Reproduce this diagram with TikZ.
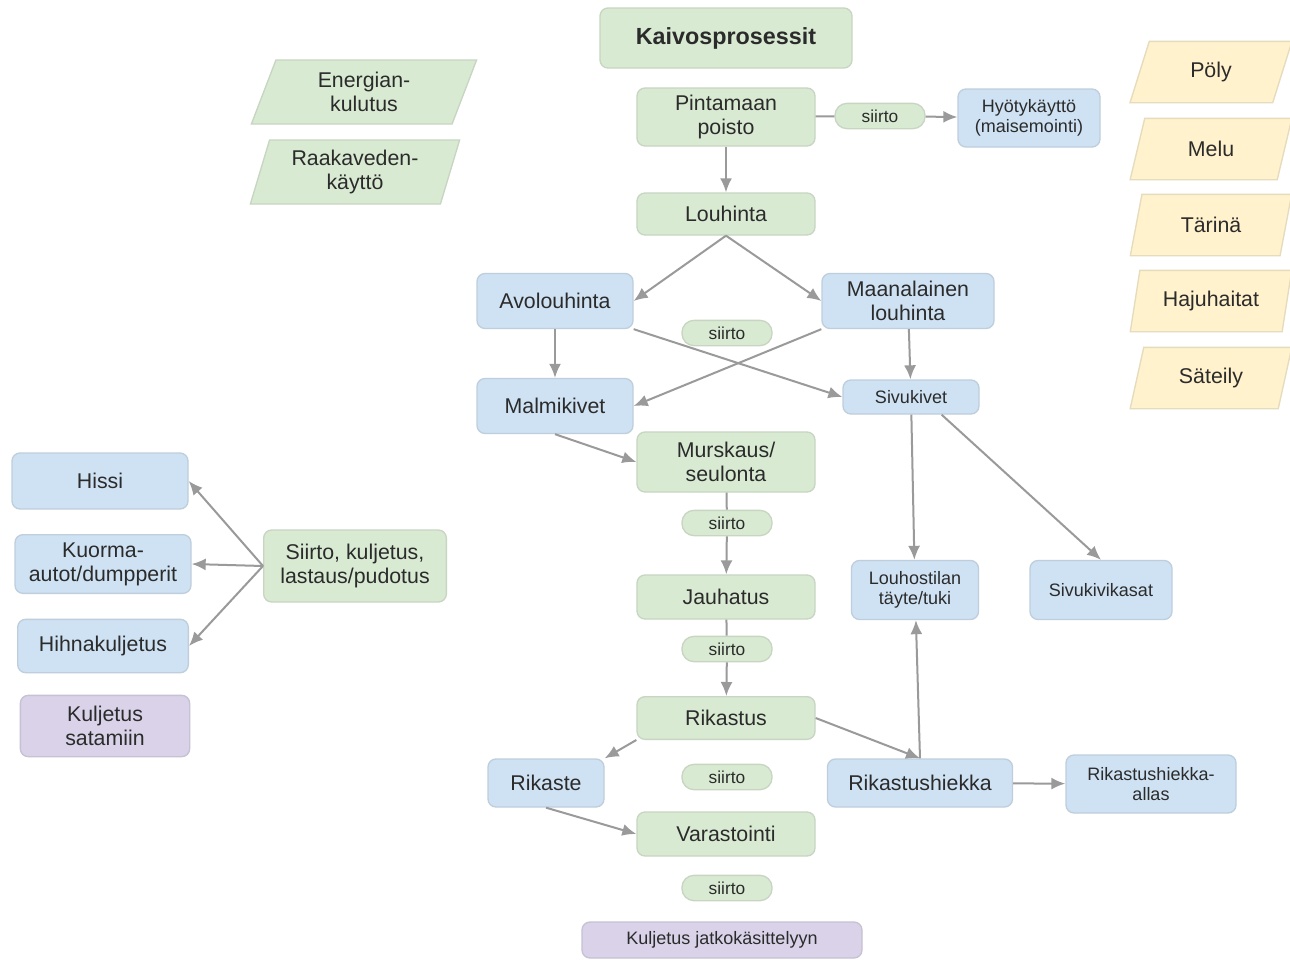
\documentclass[tikz,border=0pt]{standalone}
\usepackage{fontspec}
\setmainfont{Liberation Sans}
\usetikzlibrary{arrows.meta,shapes.geometric}

\definecolor{procgreen}{HTML}{D9EAD3}
\definecolor{outblue}{HTML}{CFE2F3}
\definecolor{effyellow}{HTML}{FFF2CC}
\definecolor{transpurple}{HTML}{D9D2E9}
\definecolor{linkgray}{HTML}{9A9A9A}
\definecolor{txtgray}{HTML}{2B2B2B}

\begin{document}
\begin{tikzpicture}[x=0.75pt,y=-0.75pt,>={Latex[length=10.5pt,width=9pt]},
                    every node/.style={text=txtgray,align=center,font=\fontsize{16}{18}\selectfont},
                    box/.style={rectangle,rounded corners=6pt,line width=1pt,inner sep=2pt},
                    proc node/.style={box,fill=procgreen,draw=procgreen!80!gray,minimum width=133.5pt},
                    out node/.style={box,fill=outblue,draw=outblue!80!gray},
                    trans node/.style={box,fill=transpurple,draw=transpurple!80!gray},
                    move node/.style={box,fill=procgreen,draw=procgreen!80!gray,rounded corners=9pt,
                                      minimum width=67.5pt,minimum height=19pt,font=\fontsize{13}{15}\selectfont},
                    small text/.style={font=\fontsize{13.5}{15.5}\selectfont},
                    effect node/.style={trapezium,trapezium left angle=72,trapezium right angle=108,
                                        trapezium stretches=true,inner sep=0pt,line width=1pt},
                    link/.style={color=linkgray,line width=1.5pt}]
\fill[white] (0,0) rectangle (1290,960);
\useasboundingbox (0,0) rectangle (1290,960);

% main column
\node[proc node,minimum width=189pt,minimum height=45pt,font=\fontsize{17.5}{20}\selectfont\bfseries] (kaivos) at (726,38) {Kaivosprosessit};
\node[proc node,minimum height=43.5pt] (pinta) at (726,117) {Pintamaan\\poisto};
\node[move node] (siirtoA) at (880,116) {siirto};
\node[out node,small text,minimum width=106.5pt,minimum height=43.5pt] (hyoty) at (1029,118) {Hyötykäyttö\\(maisemointi)};
\node[proc node,minimum height=31.5pt] (louhinta) at (726,214) {Louhinta};
\node[out node,minimum width=117pt,minimum height=41.25pt] (avo) at (555,301) {Avolouhinta};
\node[out node,minimum width=129pt,minimum height=41.25pt] (maa) at (908,301) {Maanalainen\\louhinta};
\node[move node] (siirtoB) at (727,333) {siirto};
\node[out node,minimum width=117pt,minimum height=41.25pt] (malmi) at (555,406) {Malmikivet};
\node[out node,small text,minimum width=102pt,minimum height=25.5pt] (sivu) at (911,397) {Sivukivet};
\node[proc node,minimum height=45pt] (murskaus) at (726,462) {Murskaus/\\seulonta};
\node[move node] (siirtoC) at (727,523) {siirto};
\node[proc node,minimum height=33pt] (jauhatus) at (726,597) {Jauhatus};
\node[move node] (siirtoD) at (727,649) {siirto};
\node[proc node,minimum height=32pt] (rikastus) at (726,718) {Rikastus};
\node[out node,minimum width=87pt,minimum height=36pt] (rikaste) at (546,783) {Rikaste};
\node[move node] (siirtoE) at (727,777) {siirto};
\node[out node,minimum width=138.75pt,minimum height=36pt] (hiekka) at (920,783) {Rikastushiekka};
\node[out node,small text,minimum width=127.5pt,minimum height=43.5pt] (allas) at (1151,784) {Rikastushiekka-\\allas};
\node[proc node,minimum height=33pt] (varasto) at (726,834) {Varastointi};
\node[move node] (siirtoF) at (727,888) {siirto};
\node[trans node,small text,minimum width=210pt,minimum height=27pt] (jatko) at (722,940) {Kuljetus jatkokäsittelyyn};
\node[out node,small text,minimum width=95.25pt,minimum height=44.25pt] (tayte) at (915,590) {Louhostilan\\täyte/tuki};
\node[out node,small text,minimum width=106.5pt,minimum height=44.25pt] (kasat) at (1101,590) {Sivukivikasat};

% transport
\node[out node,minimum width=132pt,minimum height=42pt] (hissi) at (100,481) {Hissi};
\node[out node,minimum width=132pt,minimum height=44pt] (kuorma) at (103,564) {Kuorma-\\autot/dumpperit};
\node[out node,minimum width=128pt,minimum height=40pt] (hihna) at (103,646) {Hihnakuljetus};
\node[trans node,minimum width=127pt,minimum height=46pt] (satama) at (105,726) {Kuljetus\\satamiin};
\node[proc node,minimum width=137pt,minimum height=54pt] (siirtokul) at (355,566) {Siirto, kuljetus,\\lastaus/pudotus};

% inputs and effects
\node[effect node,fill=procgreen,draw=procgreen!80!gray,minimum width=170pt,minimum height=48pt] (energia) at (364,92) {Energian-\\kulutus};
\node[effect node,fill=procgreen,draw=procgreen!80!gray,minimum width=157pt,minimum height=48pt] (vesi) at (355,172) {Raakaveden-\\käyttö};
\foreach \name/\txt/\y in {poly/Pöly/72,melu/Melu/149,tarina/Tärinä/225,haju/Hajuhaitat/301,sateily/Säteily/378}
  \node[effect node,fill=effyellow,draw=effyellow!80!gray,minimum width=121.5pt,minimum height=46pt] (\name) at (1211,\y) {\txt};

\path[link]
  (pinta) edge[->] (louhinta)
          edge (siirtoA)
  (siirtoA) edge[->] (hyoty)
  (louhinta.south) edge[->] (avo.east)
                   edge[->] (maa.west)
  (avo) edge[->] (malmi)
  (avo.south east) edge[->] (sivu.west)
  (maa.south west) edge[->] (malmi.east)
  (maa) edge[->] (sivu)
  (malmi.south) edge[->] (murskaus.west)
  (murskaus) edge (siirtoC)
  (siirtoC) edge[->] (jauhatus)
  (jauhatus) edge (siirtoD)
  (siirtoD) edge[->] (rikastus)
  (sivu) edge[->] (tayte)
  (sivu.-30) edge[->] (kasat.north)
  (rikastus.east) edge[->] (hiekka.north)
  (hiekka.north) edge[->] (tayte)
  (rikastus.south west) edge[->] (rikaste.north east)
  (rikaste.south) edge[->] (varasto.west)
  (hiekka) edge[->] (allas)
  (siirtokul.west) edge[->] (hissi.east)
                   edge[->] (kuorma.east)
                   edge[->] (hihna.east);

\end{tikzpicture}
\end{document}
